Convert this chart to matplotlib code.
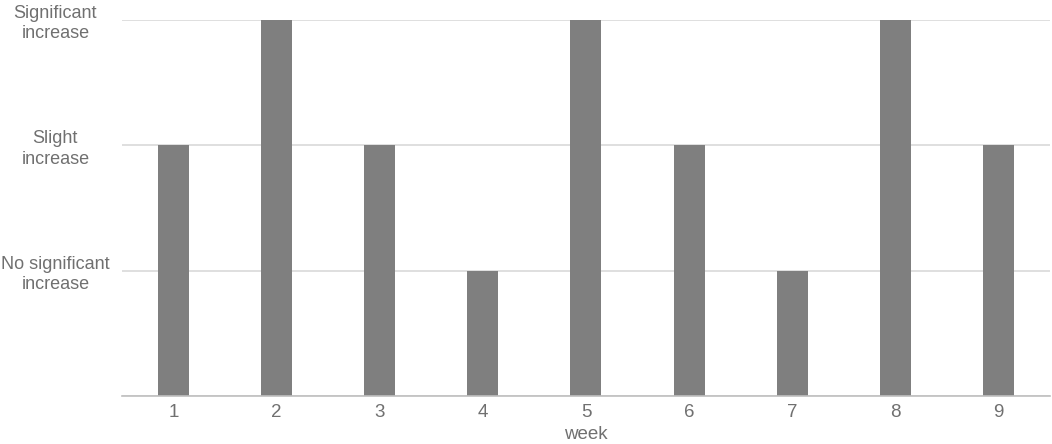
import numpy as np
import matplotlib.pyplot as plt

weeks = ['1', '2', '3', '4', '5', '6', '7', '8', '9']
levels = [2, 3, 2, 1, 3, 2, 1, 3, 2]
level_labels = ['', 'No significant\nincrease', 'Slight\nincrease', 'Significant\nincrease']

plt.rcParams['font.family'] = ['Liberation Sans', 'DejaVu Sans']
text_color = '#707070'

fig = plt.figure(figsize=(10.52, 4.44), dpi=100)
ax = fig.add_axes([0.116, 0.108, 0.882, 0.847])

x = np.arange(len(weeks))
ax.bar(x, levels, width=0.3, color='#7f7f7f', zorder=3)

ax.set_xlim(-0.5, len(weeks) - 0.5)
ax.set_ylim(0, 3)
ax.set_xticks(x)
ax.set_xticklabels(weeks)
ax.set_yticks(range(4))
ax.set_yticklabels(level_labels, ha='center', linespacing=1.25)
ax.tick_params(axis='y', length=0, pad=48, labelsize=13, labelcolor=text_color)
ax.tick_params(axis='x', length=0, pad=6, labelsize=13.5, labelcolor=text_color)
ax.yaxis.grid(True, color='#d9d9d9', linewidth=1.2, zorder=0)
ax.set_xlabel('week', fontsize=13.5, color=text_color, labelpad=3)

for s in ['top', 'right', 'left']:
    ax.spines[s].set_visible(False)
ax.spines['bottom'].set_color('#bfbfbf')
ax.spines['bottom'].set_linewidth(1.2)
ax.spines['bottom'].set_zorder(4)

fig.savefig('out.png', dpi=100)
